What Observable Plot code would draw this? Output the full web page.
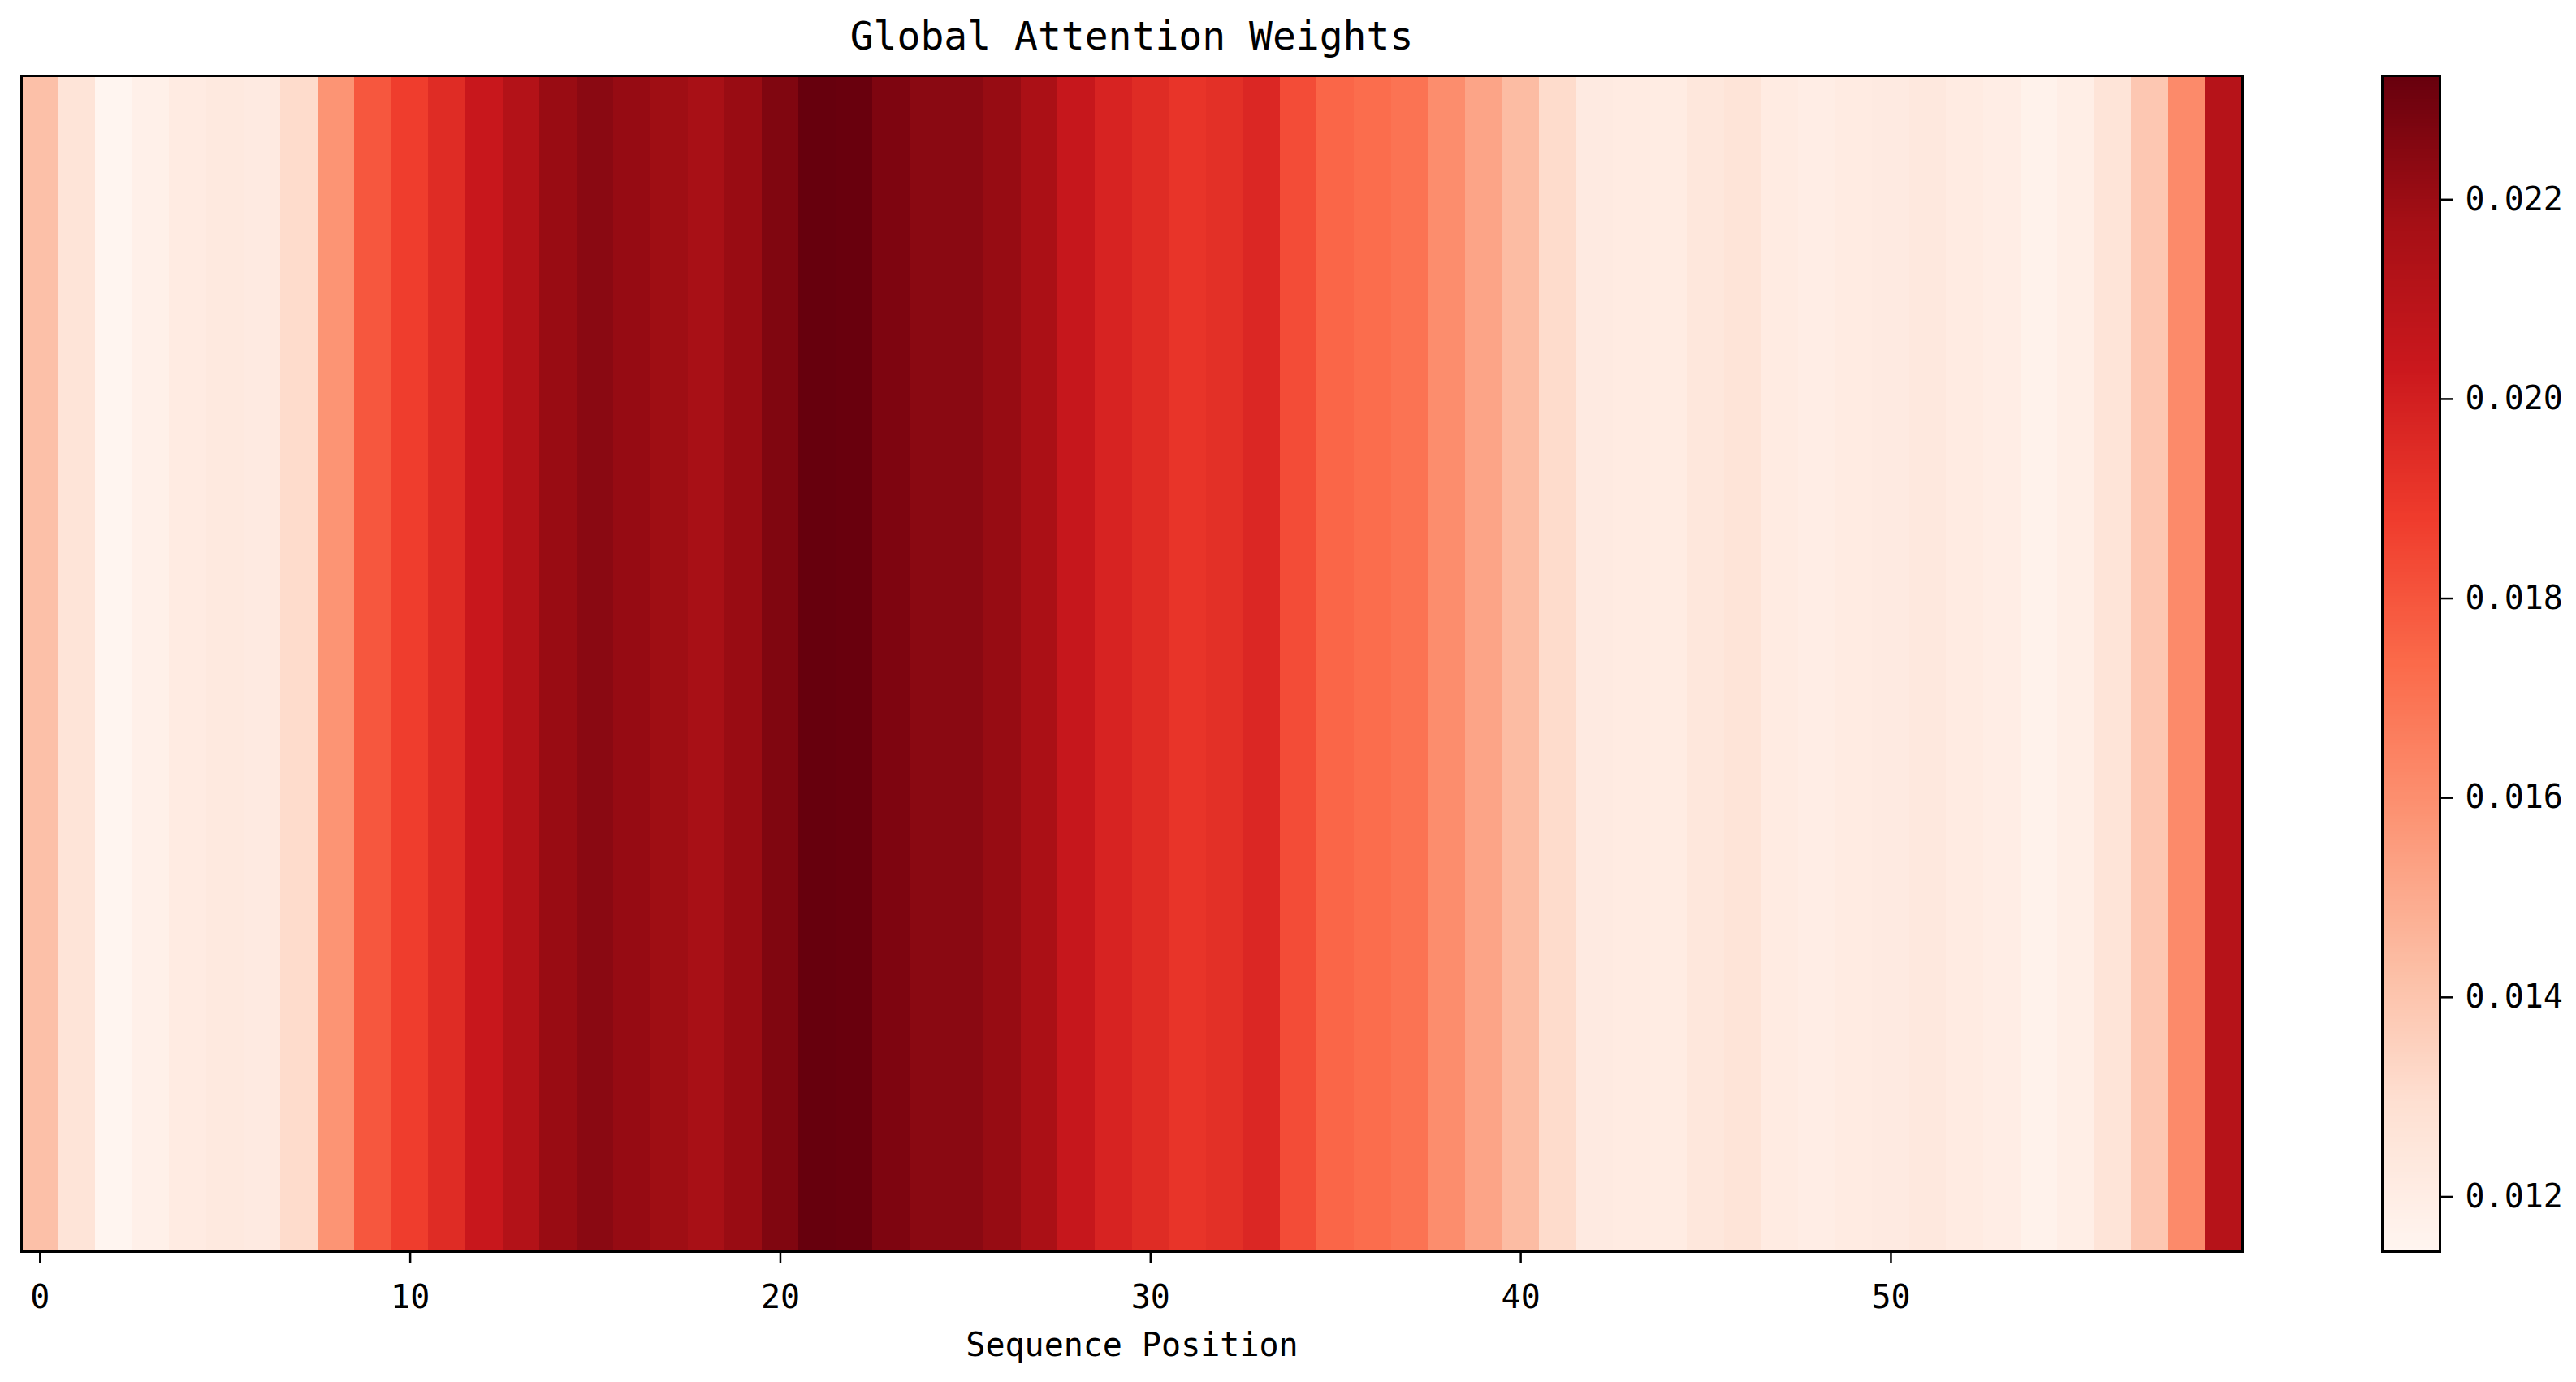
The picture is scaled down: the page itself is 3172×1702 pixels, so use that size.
<!DOCTYPE html>
<html>
<head>
<meta charset="utf-8">
<script src="https://cdn.jsdelivr.net/npm/d3@7"></script>
<script src="https://cdn.jsdelivr.net/npm/@observablehq/plot@0.6"></script>
<style>
  html, body { margin: 0; padding: 0; background: white; }
  #root { position: relative; width: 3172px; height: 1702px; background: white; overflow: hidden; }
  #title { position: absolute; left: 26px; width: 2735px; top: 20px; text-align: center;
           font-family: "DejaVu Sans Mono", monospace; font-size: 48px; line-height: 48px; color: #000; }
  .abs { position: absolute; }
</style>
</head>
<body>
<div id="root">
  <div id="title">Global Attention Weights</div>
  <div id="main" class="abs" style="left:0px; top:83px;"></div>
  <div id="cbar" class="abs" style="left:2900px; top:83px;"></div>
</div>
<script>
// ---- data ----
const positions = Array.from({length: 60}, (_, i) => i);
const weights = [
  0.01420, 0.01263, 0.01145, 0.01180, 0.01216, 0.01228, 0.01220, 0.01310, 0.01580, 0.01793,
  0.01876, 0.01947, 0.02041, 0.02124, 0.02206, 0.02240, 0.02212, 0.02190, 0.02165, 0.02206,
  0.02265, 0.02324, 0.02320, 0.02270, 0.02240, 0.02240, 0.02210, 0.02153, 0.02050, 0.01982,
  0.01947, 0.01910, 0.01929, 0.01964, 0.01829, 0.01746, 0.01723, 0.01700, 0.01605, 0.01522,
  0.01434, 0.01310, 0.01220, 0.01216, 0.01210, 0.01245, 0.01263, 0.01216, 0.01198, 0.01216,
  0.01220, 0.01234, 0.01216, 0.01198, 0.01169, 0.01192, 0.01263, 0.01390, 0.01617, 0.02112
];
const xTicks = [0, 10, 20, 30, 40, 50];
const cbarTicks = [0.012, 0.014, 0.016, 0.018, 0.020, 0.022];
const colorMin = 0.01145;
const colorMax = 0.02324;
const titleText = "Global Attention Weights";
const xLabel = "Sequence Position";

// matplotlib "Reds" colormap stops
const redsStops = ["#fff5f0","#fee0d2","#fcbba1","#fc9272","#fb6a4a","#ef3b2c","#cb181d","#a50f15","#67000d"];
const colorDomain = redsStops.map((_, i) => colorMin + i * (colorMax - colorMin) / (redsStops.length - 1));
const colorScale = {type: "linear", domain: colorDomain, range: redsStops, interpolate: "rgb", clamp: true};

const table = positions.map((p, i) => ({pos: p, weight: weights[i]}));
const font = "DejaVu Sans Mono, monospace";

const main = Plot.plot({
  width: 2800, height: 1619,
  marginLeft: 26, marginRight: 39, marginTop: 10, marginBottom: 161,
  style: {fontFamily: font, fontSize: "40px", color: "#000", background: "white", overflow: "visible"},
  x: {domain: [-0.5, 59.5]},
  color: colorScale,
  marks: [
    Plot.rect(table, {x1: d => d.pos - 0.5, x2: d => d.pos + 0.5, fill: "weight", inset: 0, shapeRendering: "crispEdges"}),
    Plot.frame({stroke: "#000", strokeWidth: 3}),
    Plot.axisX({ticks: xTicks, tickFormat: d => String(d), tickSize: 15, tickPadding: 26, strokeWidth: 2.5, fontSize: 40, label: null}),
    Plot.text([xLabel], {frameAnchor: "bottom", dy: 128, fontSize: 40, fill: "#000"})
  ]
});
document.getElementById("main").appendChild(main);

// colorbar ramp
const nSteps = 400;
const step = (colorMax - colorMin) / nSteps;
const ramp = d3.range(nSteps).map(i => ({v0: colorMin + i * step, v1: colorMin + (i + 1) * step, v: colorMin + (i + 0.5) * step}));

const cbar = Plot.plot({
  width: 272, height: 1468,
  marginLeft: 33, marginRight: 168, marginTop: 10, marginBottom: 10,
  style: {fontFamily: font, fontSize: "40px", color: "#000", background: "white", overflow: "visible"},
  y: {domain: [colorMin, colorMax]},
  color: colorScale,
  marks: [
    Plot.rect(ramp, {y1: "v0", y2: "v1", fill: "v", inset: 0, shapeRendering: "crispEdges"}),
    Plot.frame({stroke: "#000", strokeWidth: 3}),
    Plot.axisY({anchor: "right", ticks: cbarTicks, tickFormat: d3.format(".3f"), tickSize: 15, tickPadding: 16, strokeWidth: 2.5, fontSize: 40, label: null})
  ]
});
document.getElementById("cbar").appendChild(cbar);
</script>
</body>
</html>
